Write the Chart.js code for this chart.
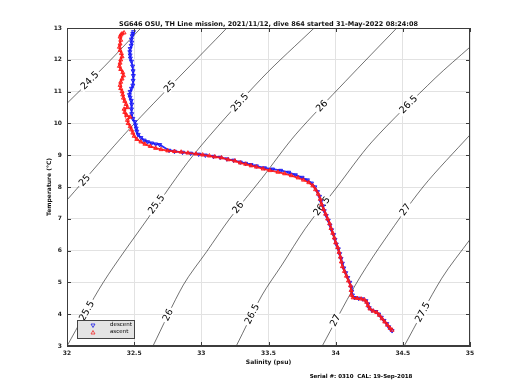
<!DOCTYPE html>
<html>
<head>
<meta charset="utf-8">
<script src="https://cdn.jsdelivr.net/npm/chart.js@4.4.0/dist/chart.umd.min.js"></script>
<style>
  html, body { margin: 0; padding: 0; background: #fff; }
  #wrap { width: 520px; height: 390px; }
</style>
</head>
<body>
<div id="wrap"><canvas id="canvas-ts" width="520" height="390"></canvas></div>
<script>
const titleText = 'SG646 OSU, TH Line mission, 2021/11/12, dive 864 started 31-May-2022 08:24:08';
const footerText = 'Serial #: 0310  CAL: 19-Sep-2018';
const FONT = '"DejaVu Sans", sans-serif';

// density (sigma-theta) contours
const isoLevels = ['24.5', '25', '25.5', '26', '26.5', '27', '27.5'];
const isoSal = [
    [32.0, 32.28, 32.55],
    [32.0, 32.47, 33.19],
    [32.0, 32.27, 32.6, 32.94, 33.45, 33.84],
    [32.64, 32.866, 33.04, 33.214, 33.45, 33.70, 34.07, 34.455],
    [33.26, 33.452, 33.60, 33.775, 34.01, 34.27, 34.74, 35.0],
    [33.90, 34.147, 34.32, 34.65, 35.0],
    [34.51, 34.79, 35.0]
];
const isoTemp = [
    [10.63, 11.8, 13.0],
    [7.59, 9.85, 13.0],
    [3.0, 5.0, 7.0, 9.0, 11.42, 13.0],
    [3.0, 4.92, 5.97, 7.02, 8.27, 9.64, 11.31, 13.0],
    [3.0, 4.6, 5.55, 6.70, 8.0, 9.42, 11.42, 12.4],
    [3.0, 4.92, 6.07, 8.0, 9.64],
    [3.0, 5.13, 6.35]
];
// where the contour labels sit (salinity, temperature)
const isoLabelSal = [
    [32.171],
    [32.134, 32.767],
    [32.149, 32.668, 33.288],
    [32.754, 33.276, 33.899],
    [33.38, 33.899, 34.544],
    [34.0, 34.52],
    [34.65]
];
const isoLabelTemp = [
    [11.34],
    [8.2, 11.15],
    [4.1, 7.45, 10.65],
    [3.97, 7.35, 10.54],
    [4.0, 7.39, 10.59],
    [3.8, 7.28],
    [4.06]
];

// descent profile (blue)
const descentTemp = [12.88, 12.82, 12.75, 12.65, 12.55, 12.45, 12.35, 12.25, 12.15, 12.05,
    11.95, 11.8, 11.65, 11.5, 11.35, 11.2, 11.1, 11.0, 10.9, 10.82,
    10.72, 10.6, 10.45, 10.3, 10.15, 10.05, 9.95, 9.85, 9.75, 9.65,
    9.55, 9.47, 9.42, 9.38, 9.35, 9.33, 9.15, 9.12, 9.09, 9.06,
    9.03, 9.0, 8.96, 8.93, 8.88, 8.84, 8.78, 8.74, 8.70, 8.66,
    8.60, 8.56, 8.52, 8.46, 8.38, 8.30, 8.22, 8.12, 8.0, 7.85,
    7.7, 7.55, 7.4, 7.25, 7.1, 6.95, 6.8, 6.65, 6.5, 6.35,
    6.2, 6.05, 5.9, 5.75, 5.6, 5.45, 5.3, 5.15, 5.0, 4.85,
    4.72, 4.6, 4.52, 4.5, 4.48, 4.42, 4.32, 4.2, 4.12, 4.08,
    4.0, 3.9, 3.8, 3.7, 3.6, 3.52, 3.48];
const descentSal = [32.495, 32.49, 32.485, 32.48, 32.482, 32.478, 32.47, 32.468, 32.47, 32.472,
    32.48, 32.488, 32.492, 32.494, 32.492, 32.49, 32.48, 32.47, 32.465, 32.47,
    32.478, 32.482, 32.48, 32.482, 32.49, 32.505, 32.51, 32.515, 32.52, 32.53,
    32.55, 32.575, 32.60, 32.63, 32.66, 32.69, 32.76, 32.80, 32.86, 32.92,
    32.98, 33.03, 33.09, 33.14, 33.19, 33.24, 33.29, 33.33, 33.37, 33.41,
    33.47, 33.53, 33.59, 33.65, 33.70, 33.75, 33.79, 33.82, 33.845, 33.865,
    33.88, 33.89, 33.905, 33.915, 33.93, 33.945, 33.958, 33.97, 33.985, 33.995,
    34.005, 34.02, 34.03, 34.04, 34.05, 34.06, 34.075, 34.09, 34.105, 34.115,
    34.12, 34.125, 34.14, 34.17, 34.2, 34.225, 34.24, 34.25, 34.27, 34.3,
    34.32, 34.34, 34.36, 34.38, 34.395, 34.41, 34.42];

// ascent profile (red)
const ascentTemp = [12.85, 12.82, 12.78, 12.72, 12.62, 12.5, 12.4, 12.3, 12.2, 12.1,
    12.0, 11.9, 11.8, 11.7, 11.6, 11.5, 11.4, 11.3, 11.2, 11.1,
    11.0, 10.9, 10.8, 10.7, 10.6, 10.5, 10.45, 10.35, 10.25, 10.2,
    10.1, 10.0, 9.9, 9.8, 9.7, 9.6, 9.5, 9.42, 9.35, 9.28,
    9.22, 9.18, 9.14, 9.12, 9.1, 9.07, 9.04, 9.01, 8.98, 8.95,
    8.92, 8.86, 8.82, 8.76, 8.72, 8.67, 8.63, 8.57, 8.52, 8.47,
    8.42, 8.36, 8.29, 8.22, 8.14, 8.04, 7.92, 7.78, 7.62, 7.46,
    7.3, 7.15, 7.0, 6.85, 6.7, 6.55, 6.4, 6.25, 6.1, 5.95,
    5.8, 5.65, 5.5, 5.35, 5.2, 5.05, 4.9, 4.75, 4.6, 4.52,
    4.5, 4.48, 4.45, 4.38, 4.27, 4.17, 4.1, 4.06, 3.97, 3.86,
    3.76, 3.66, 3.56, 3.5];
const ascentSal = [32.425, 32.41, 32.40, 32.395, 32.40, 32.395, 32.39, 32.395, 32.405, 32.41,
    32.40, 32.395, 32.39, 32.40, 32.415, 32.42, 32.41, 32.40, 32.395, 32.40,
    32.41, 32.415, 32.42, 32.43, 32.44, 32.45, 32.425, 32.43, 32.445, 32.47,
    32.45, 32.455, 32.47, 32.48, 32.49, 32.5, 32.52, 32.55, 32.58, 32.62,
    32.66, 32.70, 32.75, 32.80, 32.85, 32.90, 32.96, 33.01, 33.06, 33.10,
    33.15, 33.20, 33.25, 33.29, 33.33, 33.37, 33.41, 33.46, 33.51, 33.57,
    33.62, 33.67, 33.72, 33.76, 33.80, 33.83, 33.85, 33.87, 33.885, 33.895,
    33.91, 33.925, 33.94, 33.955, 33.965, 33.978, 33.99, 34.0, 34.015, 34.025,
    34.035, 34.042, 34.05, 34.065, 34.08, 34.095, 34.11, 34.115, 34.118, 34.13,
    34.16, 34.19, 34.215, 34.23, 34.24, 34.255, 34.28, 34.305, 34.325, 34.345,
    34.365, 34.385, 34.405, 34.42];

const salTicks = [32, 32.5, 33, 33.5, 34, 34.5, 35];
const tempTicks = [3, 4, 5, 6, 7, 8, 9, 10, 11, 12, 13];

const toPoints = (sal, temp) => sal.map((s, i) => ({ x: s, y: temp[i] }));

const datasets = [
    {
        label: 'ascent',
        data: toPoints(ascentSal, ascentTemp),
        showLine: true,
        borderColor: 'rgba(255, 20, 20, 0.9)',
        backgroundColor: 'rgba(255, 70, 70, 0.3)',
        borderWidth: 1.8,
        pointStyle: 'triangle',
        pointRadius: 2.3,
        pointBorderWidth: 1,
        order: 0
    },
    {
        label: 'descent',
        data: toPoints(descentSal, descentTemp),
        showLine: true,
        borderColor: 'rgba(20, 20, 245, 0.9)',
        backgroundColor: 'rgba(70, 70, 255, 0.3)',
        borderWidth: 1.8,
        pointStyle: 'triangle',
        rotation: 180,
        pointRadius: 2.3,
        pointBorderWidth: 1,
        order: 1
    }
];
isoLevels.forEach((lev, i) => {
    datasets.push({
        label: 'sigma ' + lev,
        data: toPoints(isoSal[i], isoTemp[i]),
        showLine: true,
        borderColor: 'rgba(0, 0, 0, 0.8)',
        borderWidth: 0.7,
        pointRadius: 0,
        tension: 0.3,
        order: 2
    });
});

// contour labels, drawn under the profiles
const isoLabelPlugin = {
    id: 'isoLabels',
    beforeDatasetDraw(chart, args) {
        if (args.index !== 1) return;
        const { ctx, scales: { x, y } } = chart;
        ctx.save();
        ctx.font = '9.5px ' + FONT;
        ctx.textAlign = 'center';
        ctx.textBaseline = 'middle';
        isoLabelSal.forEach((sList, i) => {
            sList.forEach((s, j) => {
                const t = isoLabelTemp[i][j];
                const ts = isoTemp[i];
                let k = 0;
                while (k < ts.length - 2 && ts[k + 1] < t) k++;
                const dx = x.getPixelForValue(isoSal[i][k + 1]) - x.getPixelForValue(isoSal[i][k]);
                const dy = y.getPixelForValue(ts[k + 1]) - y.getPixelForValue(ts[k]);
                const ang = Math.atan2(dy, dx);
                const w = ctx.measureText(isoLevels[i]).width;
                ctx.save();
                ctx.translate(x.getPixelForValue(s), y.getPixelForValue(t));
                ctx.rotate(ang);
                ctx.fillStyle = '#ffffff';
                ctx.fillRect(-w / 2 - 2, -4, w + 4, 8);
                ctx.fillStyle = '#000000';
                ctx.fillText(isoLevels[i], 0, 0);
                ctx.restore();
            });
        });
        ctx.restore();
    }
};

// box around the axes with inward ticks, legend box, footer
const framePlugin = {
    id: 'frame',
    afterDraw(chart) {
        const { ctx, chartArea: a, scales: { x, y } } = chart;
        ctx.save();
        ctx.strokeStyle = '#3c3c3c';
        ctx.lineWidth = 1;
        ctx.strokeRect(a.left + 0.5, a.top + 0.5, a.right - a.left - 1, a.bottom - a.top - 1);
        ctx.beginPath();
        salTicks.forEach(s => {
            const px = Math.round(x.getPixelForValue(s)) + 0.5;
            ctx.moveTo(px, a.bottom); ctx.lineTo(px, a.bottom - 4);
            ctx.moveTo(px, a.top); ctx.lineTo(px, a.top + 4);
        });
        tempTicks.forEach(t => {
            const py = Math.round(y.getPixelForValue(t)) + 0.5;
            ctx.moveTo(a.left, py); ctx.lineTo(a.left + 4, py);
            ctx.moveTo(a.right, py); ctx.lineTo(a.right - 4, py);
        });
        ctx.stroke();

        // legend
        const lx = a.left + 10, ly = a.bottom - 26;
        ctx.fillStyle = '#e4e4e4';
        ctx.fillRect(lx, ly, 57, 18);
        ctx.strokeStyle = '#444';
        ctx.strokeRect(lx + 0.5, ly + 0.5, 57, 18);
        ctx.lineWidth = 0.8;
        ctx.strokeStyle = 'rgb(30, 30, 230)';
        ctx.beginPath();
        ctx.moveTo(lx + 14, ly + 4); ctx.lineTo(lx + 18, ly + 4); ctx.lineTo(lx + 16, ly + 7.5); ctx.closePath();
        ctx.stroke();
        ctx.strokeStyle = 'rgb(240, 40, 40)';
        ctx.beginPath();
        ctx.moveTo(lx + 14, ly + 14); ctx.lineTo(lx + 18, ly + 14); ctx.lineTo(lx + 16, ly + 10.5); ctx.closePath();
        ctx.stroke();
        ctx.fillStyle = '#000';
        ctx.font = '5.5px ' + FONT;
        ctx.textBaseline = 'middle';
        ctx.textAlign = 'left';
        ctx.fillText('descent', lx + 33, ly + 5);
        ctx.fillText('ascent', lx + 33, ly + 12);

        // footer
        ctx.font = 'bold 5.5px ' + FONT;
        ctx.textAlign = 'center';
        ctx.fillText(footerText, 361, 377);
        ctx.restore();
    }
};

const tickFont = { family: FONT, size: 6, weight: 'bold' };

new Chart(document.getElementById('canvas-ts').getContext('2d'), {
    type: 'scatter',
    data: { datasets: datasets },
    options: {
        responsive: false,
        animation: false,
        events: [],
        layout: { padding: { left: 0, right: 50, top: 0, bottom: 0 } },
        plugins: {
            legend: { display: false },
            tooltip: { enabled: false },
            title: {
                display: true,
                text: titleText,
                fullSize: false,
                color: '#111',
                font: { family: FONT, size: 6.5, weight: 'bold' },
                padding: { top: 20, bottom: 0.2 }
            }
        },
        scales: {
            x: {
                type: 'linear',
                min: 32,
                max: 35,
                afterBuildTicks: s => { s.ticks = salTicks.map(v => ({ value: v })); },
                ticks: { color: '#222', font: tickFont, padding: 4, maxRotation: 0, callback: v => String(v) },
                grid: { color: '#e2e2e2', drawTicks: false },
                border: { color: '#3c3c3c' },
                title: {
                    display: true,
                    text: 'Salinity (psu)',
                    color: '#111',
                    font: tickFont,
                    padding: { top: 0, bottom: 24.4 }
                },
                afterFit: s => { s.height = 44; }
            },
            y: {
                type: 'linear',
                min: 3,
                max: 13,
                afterBuildTicks: s => { s.ticks = tempTicks.map(v => ({ value: v })); },
                ticks: { color: '#222', font: tickFont, padding: 5, callback: v => String(v) },
                grid: { color: '#e2e2e2', drawTicks: false },
                border: { color: '#3c3c3c' },
                title: {
                    display: true,
                    text: 'Temperature (°C)',
                    color: '#111',
                    font: tickFont,
                    padding: { top: 46, bottom: 0 }
                },
                afterFit: s => { s.width = 67; }
            }
        }
    },
    plugins: [isoLabelPlugin, framePlugin]
});
</script>
</body>
</html>
